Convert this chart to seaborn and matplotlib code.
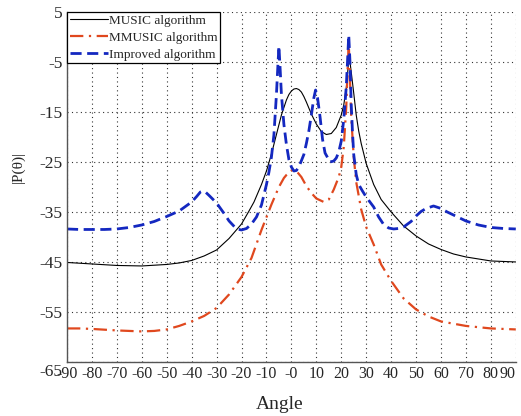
import matplotlib
matplotlib.use("Agg")
import matplotlib.pyplot as plt
import matplotlib.transforms as mtransforms
import seaborn as sns

# angle grid is denser around the narrow peaks
music_angle = [-90, -80, -70, -60, -50, -45, -40, -35, -30, -25, -20, -17, -15, -12, -10,
               -8, -6, -4, -2, -1, 0, 1, 2, 3, 4, 5, 6, 8, 10, 12, 14, 16, 18, 20, 21,
               22, 22.5, 23, 23.5, 24, 25, 26, 27, 28, 30, 33, 36, 40, 45, 50, 55, 60,
               65, 70, 80, 90]
music_val = [-45.1, -45.4, -45.7, -45.8, -45.5, -45.2, -44.7, -43.8, -42.6, -40.3, -37.4,
             -34.8, -33.0, -29.5, -26.8, -23.4, -19.5, -15.6, -12.6, -11.5, -10.8, -10.4,
             -10.3, -10.5, -11.0, -11.9, -13.0, -15.4, -17.4, -18.9, -19.5, -19.3, -18.1,
             -15.6, -13.6, -10.2, -7.5, -4.5, -5.0, -7.0, -11.2, -15.6, -18.8, -21.3,
             -25.3, -29.5, -32.5, -35.0, -37.8, -39.8, -41.4, -42.5, -43.4, -44.0, -44.8,
             -45.0]

mmusic_angle = [-90, -85, -80, -70, -65, -60, -55, -50, -45, -40, -35, -30, -25, -20, -16,
                -12, -8, -5, -3, -2, 0, 1, 2, 4, 6, 8, 10, 13, 15, 17, 19, 20, 21, 22,
                22.5, 23, 24, 25, 26, 28, 30, 33, 36, 40, 45, 50, 55, 60, 70, 80, 90]
mmusic_val = [-58.3, -58.3, -58.4, -58.7, -58.8, -58.9, -58.8, -58.5, -57.8, -56.9, -55.8,
              -54.2, -51.5, -48.0, -44.2, -38.6, -33.5, -30.0, -28.2, -27.6, -26.7, -26.6,
              -26.8, -28.0, -29.8, -31.2, -32.3, -33.0, -32.5, -30.5, -28.0, -26.0, -22.0,
              -14.0, -7.0, -1.0, -16.0, -24.0, -29.0, -34.5, -38.0, -41.5, -45.5, -48.8,
              -52.3, -54.5, -55.9, -56.9, -57.8, -58.3, -58.5]

improved_angle = [-90, -85, -80, -75, -70, -65, -60, -55, -50, -45, -40, -38, -36.5, -35.5,
                  -34.5, -33, -30, -27, -25, -22, -20, -18, -16, -14, -12, -10, -9, -8, -7,
                  -6, -5.5, -5, -4.5, -4, -3, -2, -1, 0, 1, 2, 3, 5, 6, 7, 8, 9, 9.7, 10.5,
                  11.5, 12.5, 13.5, 15.5, 17, 18, 19, 20, 21, 22, 22.5, 23, 23.5, 24, 24.5,
                  25, 26, 27, 28.5, 30, 33, 35, 37, 39, 41, 43, 45, 48, 50, 52, 54, 57, 60,
                  62.5, 65, 70, 75, 80, 85, 90]
improved_val = [-38.4, -38.5, -38.5, -38.5, -38.4, -38.1, -37.6, -36.9, -35.9, -34.8, -33.0,
                -31.9, -31.0, -30.8, -31.0, -31.7, -33.2, -35.3, -36.8, -38.4, -38.6, -38.3,
                -37.4, -36.0, -33.6, -29.5, -27.0, -24.0, -19.5, -11.5, -6.5, -1.8, -6.5,
                -11.5, -17.5, -21.5, -24.5, -26.0, -26.8, -26.7, -26.0, -23.5, -21.3, -18.8,
                -15.6, -12.2, -10.6, -12.2, -16.0, -20.5, -23.2, -25.0, -24.8, -24.2, -23.0,
                -20.8, -16.5, -10.0, -5.0, 0.4, -5.0, -13.5, -19.0, -23.5, -27.5, -29.5,
                -30.8, -32.0, -34.0, -36.0, -37.5, -38.2, -38.4, -38.3, -38.0, -36.9, -35.8,
                -34.9, -34.3, -33.8, -34.3, -35.0, -35.6, -36.8, -37.6, -38.1, -38.3, -38.4]

x_ticks = list(range(-90, 91, 10))
x_labels = ["-90", "-80", "-70", "-60", "-50", "-40", "-30", "-20", "-10", "-0",
            "10", "20", "30", "40", "50", "60", "70", "80", "90"]
y_ticks = [5, -5, -15, -25, -35, -45, -55, -65]

sns.set_style("white")
plt.rcParams["font.family"] = ["Liberation Serif", "DejaVu Serif"]

fig = plt.figure(figsize=(5.21, 4.16), dpi=100)
ax = fig.add_axes([0.1286, 0.130, 0.8614, 0.841])

sns.lineplot(x=music_angle, y=music_val, ax=ax, color="black", linewidth=0.8,
             label="MUSIC algorithm")
sns.lineplot(x=mmusic_angle, y=mmusic_val, ax=ax, color="#e0481e", linewidth=1.6,
             linestyle=(0, (6, 2.5, 1, 2.5)), label="MMUSIC algorithm")
sns.lineplot(x=improved_angle, y=improved_val, ax=ax, color="#1428c0", linewidth=2.0,
             linestyle=(0, (4, 2)), label="Improved algorithm")

ax.set_xlim(-90, 90)
ax.set_ylim(-65, 5)
ax.set_xticks(x_ticks)
ax.set_xticklabels(x_labels, fontsize=11.5)
ax.set_yticks(y_ticks)
ax.set_yticklabels([str(v) for v in y_ticks], fontsize=12.5)
ax.tick_params(direction="in", length=3, color="#555555", pad=3)
ax.grid(True, linestyle=(0, (1, 3)), color="#333333", linewidth=0.8)

# last x label kept inside the figure, bottom y label sits on the x label row
ax.get_xticklabels()[-1].set_horizontalalignment("right")
ax.get_yticklabels()[-1].set_transform(
    ax.get_yticklabels()[-1].get_transform()
    + mtransforms.ScaledTranslation(0, -8 / 100, fig.dpi_scale_trans))

for side in ["top", "right"]:
    ax.spines[side].set_visible(False)
for side in ["left", "bottom"]:
    ax.spines[side].set_color("#555555")
    ax.spines[side].set_linewidth(1.0)

ax.set_xlabel("Angle", fontsize=14)
ax.xaxis.set_label_coords(0.474, -0.097)
ax.set_ylabel("|P(θ)|", fontsize=11)
ax.yaxis.set_label_coords(-0.0935, 0.557)

leg = ax.legend(loc="upper left", borderaxespad=0, fancybox=False, framealpha=1,
                edgecolor="black", fontsize=9.5, handlelength=2.9, handletextpad=0.1,
                labelspacing=0.35, borderpad=0.2)
leg.get_frame().set_linewidth(0.9)

plt.savefig("out.png", dpi=100)
